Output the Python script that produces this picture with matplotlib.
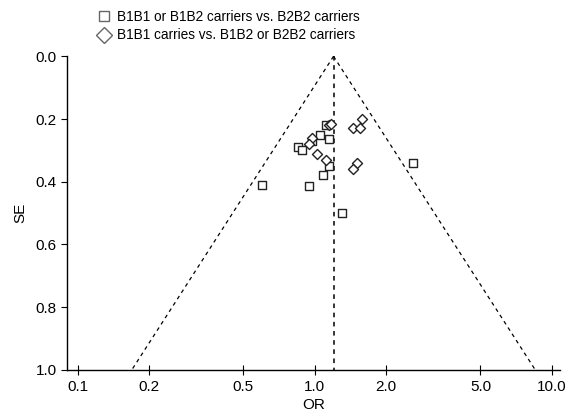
import numpy as np
import matplotlib
matplotlib.use("Agg")
import matplotlib.pyplot as plt
from matplotlib.ticker import FixedLocator, FixedFormatter, NullLocator

plt.rcParams['font.family'] = ['Liberation Sans', 'DejaVu Sans']

# Data
sq_or = [0.60, 0.85, 0.88, 0.95, 0.97, 1.05, 1.08, 1.12, 1.15, 1.15, 1.30, 2.60]
sq_se = [0.41, 0.29, 0.30, 0.415, 0.27, 0.25, 0.38, 0.22, 0.35, 0.265, 0.50, 0.34]
di_or = [0.97, 0.95, 1.02, 1.15, 1.17, 1.45, 1.55, 1.58, 1.50, 1.45, 1.12]
di_se = [0.26, 0.28, 0.31, 0.22, 0.215, 0.23, 0.23, 0.20, 0.34, 0.36, 0.33]
pooled_or = 1.2
labels = ["B1B1 or B1B2 carriers vs. B2B2 carriers",
          "B1B1 carries vs. B1B2 or B2B2 carriers"]
xticks = [0.1, 0.2, 0.5, 1.0, 2.0, 5.0, 10.0]
xticklabels = ["0.1", "0.2", "0.5", "1.0", "2.0", "5.0", "10.0"]
yticks = [0.0, 0.2, 0.4, 0.6, 0.8, 1.0]

fig = plt.figure(figsize=(5.77, 4.17), dpi=100)
ax = fig.add_axes([0.116, 0.113, 0.854, 0.752])

se_line = np.array([0.0, 1.0])
ax.plot(pooled_or * np.exp(-1.96 * se_line), se_line, ls=(0, (3, 3)), color='black', lw=0.9)
ax.plot(pooled_or * np.exp(1.96 * se_line), se_line, ls=(0, (3, 3)), color='black', lw=0.9)
ax.plot([pooled_or, pooled_or], [0, 1], ls=(0, (3, 3)), color='black', lw=1.1)

ax.scatter(sq_or, sq_se, marker='s', s=30, facecolors='white', edgecolors='#222222', linewidths=1.0, zorder=3)
ax.scatter(di_or, di_se, marker='D', s=26, facecolors='white', edgecolors='#222222', linewidths=1.0, zorder=3)

ax.set_xscale('log')
ax.set_xlim(0.09, 10.8)
ax.set_ylim(1.0, 0.0)
ax.xaxis.set_major_locator(FixedLocator(xticks))
ax.xaxis.set_major_formatter(FixedFormatter(xticklabels))
ax.xaxis.set_minor_locator(NullLocator())
ax.set_yticks(yticks)
ax.set_yticklabels([f"{v:.1f}" for v in yticks])

for s in ['top', 'right']:
    ax.spines[s].set_visible(False)
for s in ['left', 'bottom']:
    ax.spines[s].set_linewidth(1.0)
ax.tick_params(axis='x', direction='inout', length=7, labelsize=11, pad=4)
ax.tick_params(axis='y', direction='out', length=4, labelsize=11)
ax.set_xlabel("OR", fontsize=11, labelpad=3)
ax.set_ylabel("SE", fontsize=11, labelpad=6)

h1l = plt.Line2D([], [], marker='s', ls='none', markersize=7, markerfacecolor='white', markeredgecolor='#666666')
h2l = plt.Line2D([], [], marker='D', ls='none', markersize=8, markerfacecolor='white', markeredgecolor='#666666')
fig.legend([h1l, h2l], labels, loc='upper left', bbox_to_anchor=(0.155, 0.995),
           frameon=False, fontsize=9.8, handletextpad=0.4, labelspacing=0.3,
           handlelength=1.0, borderaxespad=0.2)

fig.savefig("out.png", dpi=100)
